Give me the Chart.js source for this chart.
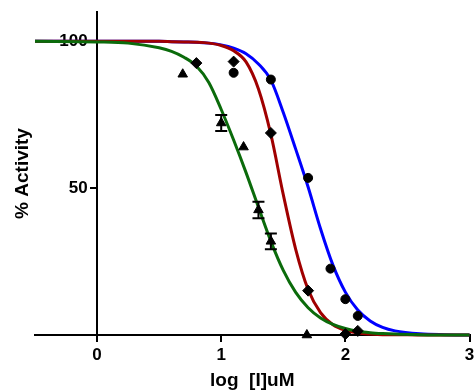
<!DOCTYPE html>
<html>
<head>
<meta charset="utf-8">
<script src="https://cdn.jsdelivr.net/npm/chart.js@4.4.1/dist/chart.umd.min.js"></script>
<style>
  html, body { margin: 0; padding: 0; background: #fff; }
  canvas { display: block; }
</style>
</head>
<body>
<canvas id="activityChart" width="476" height="390"></canvas>
<script>
// fitted dose-response curves at these log [I] values
const curveX = [-0.5, 0, 0.25, 0.5, 0.6, 0.7, 0.8, 0.9, 1.0, 1.1, 1.2, 1.3, 1.4, 1.5, 1.6, 1.7, 1.8, 1.9, 2.0, 2.1, 2.2, 2.3, 2.4, 2.6, 2.8, 3.0];
const greenCurve = [100, 99.8, 99.4, 97.8, 96.6, 94.6, 91.6, 86.0, 76.8, 66.4, 55.3, 43.5, 31.9, 22.0, 14.5, 9.3, 5.8, 3.6, 2.2, 1.3, 0.8, 0.5, 0.3, 0.1, 0, 0];
const redCurve = [100, 100, 100, 100, 99.9, 99.8, 99.7, 99.4, 98.6, 96.8, 93.0, 83.8, 68.3, 47.8, 29.2, 15.5, 7.6, 3.5, 1.6, 0.7, 0.3, 0.1, 0.1, 0, 0, 0];
const blueCurve = [100, 100, 100, 100, 99.9, 99.8, 99.7, 99.4, 98.8, 97.7, 95.8, 92.3, 86.8, 75.8, 63.3, 50.4, 36.2, 23.8, 14.6, 8.5, 4.8, 2.6, 1.4, 0.4, 0.1, 0];

// measured points
const triangleX = [0.69, 1.0, 1.18, 1.3, 1.4, 1.69];
const triangleY = [88.8, 72.2, 64.0, 42.6, 31.9, 0];
const triangleErr = [0, 2.7, 0, 2.8, 2.7, 0];

const diamondX = [0.8, 1.1, 1.4, 1.7, 2.0, 2.1];
const diamondY = [92.6, 93.1, 68.8, 15.1, 0.3, 1.4];

const circleX = [1.1, 1.4, 1.7, 1.88, 2.0, 2.1];
const circleY = [89.3, 87.0, 53.5, 22.6, 12.2, 6.5];

const xTicks = [0, 1, 2, 3];
const yTicks = [50, 100];

const FONT = "'Liberation Sans', Arial, sans-serif";

function toPoints(xs, ys) {
    return xs.map(function (x, i) { return { x: x, y: ys[i] }; });
}

// SEM bars on the triangle series
const errorBars = {
    id: "errorBars",
    afterDatasetsDraw(chart) {
        const ctx = chart.ctx;
        const xs = chart.scales.x;
        const ys = chart.scales.y;
        ctx.save();
        ctx.strokeStyle = "#000";
        ctx.lineWidth = 2;
        triangleX.forEach(function (x, i) {
            const err = triangleErr[i];
            if (!err) return;
            const px = xs.getPixelForValue(x);
            const top = ys.getPixelForValue(triangleY[i] + err);
            const bottom = ys.getPixelForValue(triangleY[i] - err);
            ctx.beginPath();
            ctx.moveTo(px, top); ctx.lineTo(px, bottom);
            ctx.moveTo(px - 6, top); ctx.lineTo(px + 6, top);
            ctx.moveTo(px - 6, bottom); ctx.lineTo(px + 6, bottom);
            ctx.stroke();
        });
        ctx.restore();
    }
};

function curve(values, color, order) {
    return {
        type: "line",
        data: toPoints(curveX, values),
        borderColor: color,
        borderWidth: 3,
        pointRadius: 0,
        fill: false,
        cubicInterpolationMode: "monotone",
        clip: false,
        order: order
    };
}

function markers(xs, ys, style, radius) {
    return {
        type: "scatter",
        data: toPoints(xs, ys),
        pointStyle: style,
        pointRadius: radius,
        backgroundColor: "#000",
        borderColor: "#000",
        borderWidth: 1,
        clip: false,
        order: 0
    };
}

const ctx = document.getElementById("activityChart").getContext("2d");

new Chart(ctx, {
    type: "scatter",
    data: {
        datasets: [
            markers(triangleX, triangleY, "triangle", 5.5),
            markers(diamondX, diamondY, "rectRot", 5.5),
            markers(circleX, circleY, "circle", 4.5),
            curve(greenCurve, "#0B6B0B", 1),
            curve(redCurve, "#A00000", 2),
            curve(blueCurve, "#0000FF", 3)
        ]
    },
    plugins: [errorBars],
    options: {
        responsive: false,
        animation: false,
        devicePixelRatio: 1,
        layout: { padding: { top: 12, right: 6, bottom: 0, left: 0 } },
        plugins: {
            legend: { display: false },
            tooltip: { enabled: false }
        },
        scales: {
            x: {
                type: "linear",
                position: "bottom",
                min: -0.5,
                max: 3,
                afterBuildTicks: function (s) { s.ticks = xTicks.map(function (v) { return { value: v }; }); },
                afterFit: function (s) { s.paddingLeft = 0; s.paddingRight = 0; },
                border: { color: "#000", width: 2 },
                grid: { drawOnChartArea: false, drawTicks: true, tickLength: 7, color: "#000", lineWidth: 2 },
                ticks: { color: "#000", padding: 3, font: { family: FONT, size: 17, weight: "bold" } },
                title: {
                    display: true,
                    text: "log  [I]uM",
                    color: "#000",
                    padding: { top: 2.6, bottom: 0 },
                    font: { family: FONT, size: 19, weight: "bold", lineHeight: 1 }
                }
            },
            y: {
                type: "linear",
                position: { x: 0 },
                min: 0,
                max: 110,
                afterBuildTicks: function (s) { s.ticks = yTicks.map(function (v) { return { value: v }; }); },
                afterFit: function (s) { s.width = 0; s.paddingTop = 0; s.paddingBottom = 0; },
                border: { color: "#000", width: 2 },
                grid: { drawOnChartArea: false, drawTicks: true, tickLength: 6, color: "#000", lineWidth: 2 },
                ticks: {
                    color: "#000",
                    // centred axes ignore tick padding, so keep the label clear of the tick mark
                    callback: function (v) { return v + "  "; },
                    font: { family: FONT, size: 17, weight: "bold" }
                }
            },
            yTitle: {
                type: "linear",
                position: "left",
                min: 0,
                max: 110,
                border: { display: false },
                grid: { display: false, drawTicks: false },
                ticks: { display: false },
                title: {
                    display: true,
                    text: "% Activity",
                    color: "#000",
                    padding: { top: 13, bottom: 3 },
                    font: { family: FONT, size: 19, weight: "bold", lineHeight: 1 }
                }
            }
        }
    }
});
</script>
</body>
</html>
